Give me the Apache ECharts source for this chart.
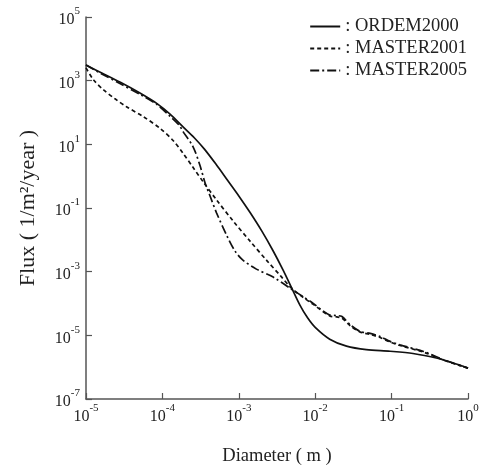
<!DOCTYPE html>
<html>
<head>
<meta charset="utf-8">
<script src="https://cdn.jsdelivr.net/npm/echarts@6/dist/echarts.min.js"></script>
<style>html,body{margin:0;padding:0;background:#fff;}#c{width:486px;height:466px;}</style>
</head>
<body>
<div id="c"></div>
<script>
// log10(Diameter [m]) and log10(Flux [1/m^2/year])
var ordemLogD    = [-5.00,-4.80,-4.55,-4.30,-4.07,-3.90,-3.73,-3.58,-3.45,-3.30,-3.15,-3.00,-2.85,-2.70,-2.55,-2.42,-2.31,-2.20,-2.10,-2.00,-1.81,-1.59,-1.33,-1.02,-0.72,-0.40,-0.20,0.00];
var ordemLogFlux = [3.49,3.25,2.95,2.62,2.28,1.95,1.55,1.20,0.85,0.38,-0.12,-0.62,-1.15,-1.72,-2.35,-2.95,-3.50,-4.05,-4.45,-4.75,-5.12,-5.34,-5.45,-5.50,-5.57,-5.72,-5.86,-6.03];

var m2001LogD    = [-5.00,-4.90,-4.77,-4.62,-4.47,-4.25,-4.03,-3.86,-3.73,-3.60,-3.46,-3.29,-3.07,-2.85,-2.63,-2.45,-2.31,-2.15,-2.03,-1.81,-1.72,-1.65,-1.54,-1.41,-1.28,-1.15,-1.02,-0.89,-0.58,-0.32,0.00];
var m2001LogFlux = [3.40,3.02,2.71,2.43,2.18,1.87,1.50,1.12,0.72,0.28,-0.20,-0.75,-1.42,-2.05,-2.66,-3.14,-3.52,-3.82,-4.02,-4.39,-4.42,-4.46,-4.70,-4.90,-4.97,-5.07,-5.21,-5.32,-5.53,-5.78,-6.03];

var m2005LogD    = [-5.00,-4.80,-4.55,-4.30,-4.07,-3.90,-3.78,-3.73,-3.60,-3.51,-3.44,-3.38,-3.29,-3.16,-3.05,-2.95,-2.77,-2.55,-2.31,-2.15,-2.03,-1.81,-1.72,-1.65,-1.54,-1.41,-1.28,-1.15,-1.02,-0.89,-0.58,-0.32,0.00];
var m2005LogFlux = [3.49,3.22,2.90,2.58,2.25,1.88,1.60,1.40,0.93,0.35,-0.22,-0.60,-1.16,-1.85,-2.35,-2.63,-2.92,-3.17,-3.55,-3.80,-3.99,-4.36,-4.38,-4.41,-4.67,-4.88,-4.94,-5.04,-5.19,-5.30,-5.51,-5.77,-6.03];

var seriesNames = ['ORDEM2000','MASTER2001','MASTER2005'];

function pairs(xs, ys){ return xs.map(function(x,i){ return [x, ys[i]]; }); }

var FONT = '"Liberation Serif","Times New Roman",serif';
var powRich = {
  b: {fontFamily: FONT, fontSize: 16, color: '#222', lineHeight: 22, verticalAlign: 'bottom'},
  s: {fontFamily: FONT, fontSize: 11, color: '#222', lineHeight: 22, verticalAlign: 'top'}
};
function powLabel(v){ return '{b|10}{s|' + Math.round(v) + '}'; }

var chart = echarts.init(document.getElementById('c'), null, {renderer: 'canvas'});
chart.setOption({
  animation: false,
  backgroundColor: '#fff',
  grid: {left: 86, right: 18, top: 17, bottom: 67, containLabel: false, outerBoundsMode: 'none'},
  legend: {
    orient: 'vertical', right: 14, top: 12,
    itemWidth: 30, itemHeight: 14, itemGap: 3,
    formatter: ': {name}',
    itemStyle: {opacity: 0},
    textStyle: {fontFamily: FONT, fontSize: 18.5, color: '#222'},
    data: seriesNames
  },
  xAxis: {
    type: 'value', min: -5, max: 0, interval: 1,
    name: 'Diameter ( m )', nameLocation: 'middle', nameGap: 48,
    nameTextStyle: {fontFamily: FONT, fontSize: 18.5, color: '#222'},
    axisLine: {onZero: false, lineStyle: {color: '#555', width: 1.5}},
    axisTick: {inside: true, length: 6, lineStyle: {color: '#555', width: 1.2}},
    axisLabel: {formatter: powLabel, rich: powRich, margin: 4},
    splitLine: {show: false}
  },
  yAxis: {
    type: 'value', min: -7, max: 5, interval: 2,
    name: 'Flux ( 1/m\u00B2/year )', nameLocation: 'middle', nameGap: 47,
    nameTextStyle: {fontFamily: FONT, fontSize: 22, color: '#222'},
    axisLine: {show: true, onZero: false, lineStyle: {color: '#555', width: 1.5}},
    axisTick: {show: true, inside: true, length: 6, lineStyle: {color: '#555', width: 1.2}},
    axisLabel: {formatter: powLabel, rich: powRich, margin: 6},
    splitLine: {show: false}
  },
  series: [
    {name: seriesNames[0], type: 'line', data: pairs(ordemLogD, ordemLogFlux), showSymbol: false, symbol: 'none', smooth: 0.3,
     lineStyle: {color: '#111', width: 1.7, type: 'solid'}, itemStyle: {color: '#111'}},
    {name: seriesNames[1], type: 'line', data: pairs(m2001LogD, m2001LogFlux), showSymbol: false, symbol: 'none', smooth: 0.3,
     lineStyle: {color: '#111', width: 1.7, type: [4, 3]}, itemStyle: {color: '#111'}},
    {name: seriesNames[2], type: 'line', data: pairs(m2005LogD, m2005LogFlux), showSymbol: false, symbol: 'none', smooth: 0.3,
     lineStyle: {color: '#111', width: 1.7, type: [9, 3, 2, 3]}, itemStyle: {color: '#111'}}
  ]
});
</script>
</body>
</html>
